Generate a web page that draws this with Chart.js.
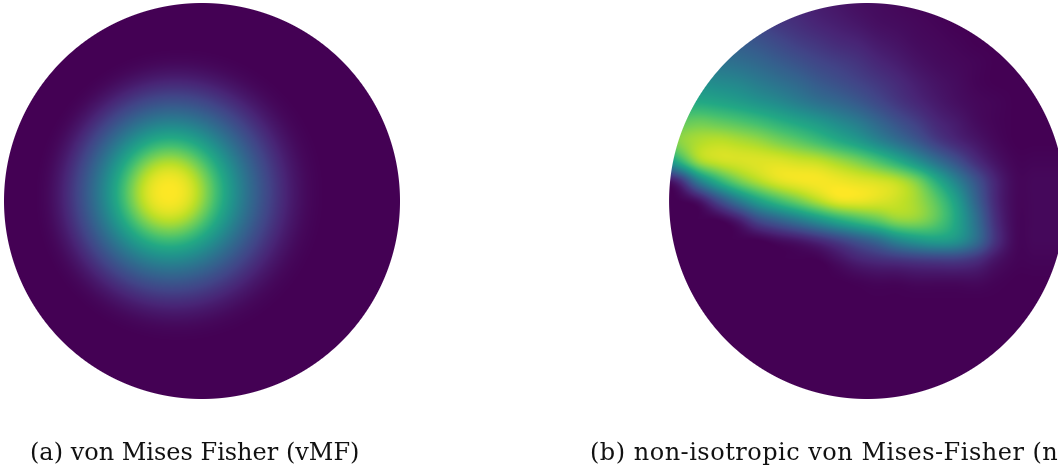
<!DOCTYPE html>
<html>
<head>
<meta charset="utf-8">
<script src="https://cdn.jsdelivr.net/npm/chart.js@4"></script>
<style>
  html, body { margin: 0; padding: 0; background: #fff; }
  #wrap { position: relative; width: 1058px; height: 473px; overflow: hidden; }
  #graph { position: absolute; left: 0; top: 0; }
  .caption { position: absolute; top: 440px; font-family: 'DejaVu Serif', serif; font-size: 24px; line-height: 24px; color: #111; white-space: nowrap; }
</style>
</head>
<body>
<div id="wrap">
  <canvas id="graph" width="1058" height="473"></canvas>
  <div class="caption" style="left:30px">(a) von Mises Fisher (vMF)</div>
  <div class="caption" style="left:590px; letter-spacing:0.5px">(b) non-isotropic von Mises-Fisher (n</div>
</div>
<script>
// units: one sphere radius. left sphere at x=0, right sphere at x=sphereGap
var sphereGap = 3.359

// (a) vMF: density against angle (degrees) from the mean direction
var vmfMean = [-0.167, 0.045]
var vmfAngles = [0, 3, 6, 9, 12, 15, 18, 21, 24, 27, 30, 33, 36, 39, 42, 45, 48]
var vmfDensity = [1.0, 0.99, 0.95, 0.87, 0.76, 0.64, 0.53, 0.43, 0.34, 0.26, 0.19, 0.13, 0.08, 0.045, 0.02, 0.007, 0]

// (b) non-isotropic vMF: density read on a grid over the right disc
var nvmfGridX = [-1.05, -0.95, -0.85, -0.75, -0.65, -0.55, -0.45, -0.35, -0.25, -0.15, -0.05, 0.05, 0.15, 0.25, 0.35, 0.45, 0.55, 0.65, 0.75]
var nvmfGridY = [1.0, 0.9, 0.8, 0.7, 0.6, 0.5, 0.4, 0.3, 0.2, 0.1, 0.0, -0.1, -0.2, -0.3, -0.4, -0.5]
var nvmfRows = [
  [0.26, 0.25, 0.24, 0.22, 0.20, 0.17, 0.14, 0.11, 0.08, 0.06, 0.04, 0.03, 0.02, 0.01, 0, 0, 0, 0, 0],
  [0.29, 0.28, 0.27, 0.25, 0.23, 0.20, 0.16, 0.13, 0.10, 0.08, 0.06, 0.04, 0.03, 0.02, 0.01, 0, 0, 0, 0],
  [0.35, 0.34, 0.33, 0.31, 0.29, 0.26, 0.22, 0.18, 0.15, 0.12, 0.10, 0.07, 0.05, 0.03, 0.02, 0.01, 0, 0, 0],
  [0.42, 0.41, 0.40, 0.38, 0.36, 0.33, 0.29, 0.25, 0.21, 0.18, 0.15, 0.11, 0.08, 0.05, 0.03, 0.02, 0.01, 0, 0],
  [0.50, 0.50, 0.49, 0.47, 0.45, 0.41, 0.37, 0.33, 0.28, 0.24, 0.20, 0.16, 0.12, 0.08, 0.05, 0.03, 0.01, 0, 0],
  [0.60, 0.60, 0.60, 0.58, 0.55, 0.51, 0.47, 0.42, 0.37, 0.33, 0.28, 0.22, 0.16, 0.11, 0.07, 0.04, 0.02, 0.01, 0],
  [0.68, 0.74, 0.77, 0.75, 0.72, 0.68, 0.63, 0.58, 0.53, 0.47, 0.41, 0.33, 0.25, 0.18, 0.11, 0.07, 0.03, 0.01, 0],
  [0.72, 0.82, 0.88, 0.90, 0.88, 0.85, 0.80, 0.75, 0.69, 0.62, 0.55, 0.46, 0.37, 0.28, 0.18, 0.11, 0.06, 0.02, 0],
  [0.40, 0.63, 0.85, 0.92, 0.94, 0.95, 0.95, 0.93, 0.91, 0.86, 0.80, 0.72, 0.62, 0.50, 0.37, 0.25, 0.13, 0.05, 0.01],
  [0.01, 0.12, 0.42, 0.63, 0.78, 0.88, 0.95, 0.98, 0.99, 0.98, 0.96, 0.94, 0.90, 0.80, 0.62, 0.44, 0.26, 0.10, 0.02],
  [0, 0, 0.05, 0.22, 0.40, 0.56, 0.68, 0.78, 0.88, 0.96, 0.97, 0.95, 0.92, 0.86, 0.74, 0.56, 0.32, 0.11, 0.02],
  [0, 0, 0, 0, 0.07, 0.21, 0.30, 0.39, 0.49, 0.59, 0.67, 0.74, 0.82, 0.82, 0.74, 0.59, 0.37, 0.13, 0.02],
  [0, 0, 0, 0, 0, 0, 0.03, 0.06, 0.11, 0.18, 0.26, 0.34, 0.45, 0.52, 0.55, 0.51, 0.36, 0.14, 0.02],
  [0, 0, 0, 0, 0, 0, 0, 0, 0, 0.04, 0.09, 0.12, 0.14, 0.16, 0.17, 0.17, 0.13, 0.05, 0.01],
  [0, 0, 0, 0, 0, 0, 0, 0, 0, 0, 0.01, 0.02, 0.02, 0.03, 0.03, 0.03, 0.03, 0.01, 0],
  [0, 0, 0, 0, 0, 0, 0, 0, 0, 0, 0, 0, 0, 0, 0, 0, 0, 0, 0]
]

// viridis colour stops
var viridisStops = [
  [68, 1, 84], [72, 36, 117], [65, 68, 135], [53, 95, 141], [42, 120, 142], [33, 145, 140],
  [34, 168, 132], [68, 191, 112], [122, 209, 81], [189, 223, 38], [253, 231, 37]
]

function viridis(t) {
  t = Math.min(1, Math.max(0, t))
  var f = t * (viridisStops.length - 1)
  var i = Math.min(Math.floor(f), viridisStops.length - 2)
  var k = f - i
  var a = viridisStops[i], b = viridisStops[i + 1]
  return [a[0] + (b[0] - a[0]) * k, a[1] + (b[1] - a[1]) * k, a[2] + (b[2] - a[2]) * k]
}

function clampIdx(i, n) { return i < 0 ? 0 : (i > n - 1 ? n - 1 : i) }

// catmull-rom between p1 and p2
function cr(p0, p1, p2, p3, t) {
  return p1 + 0.5 * t * (p2 - p0 + t * (2 * p0 - 5 * p1 + 4 * p2 - p3 + t * (3 * (p1 - p2) + p3 - p0)))
}

function sample1d(arr, f) {
  if (f >= arr.length - 1) return arr[arr.length - 1]
  var i = Math.floor(f), t = f - i, n = arr.length
  return cr(arr[clampIdx(i - 1, n)], arr[i], arr[clampIdx(i + 1, n)], arr[clampIdx(i + 2, n)], t)
}

function sample2d(rows, fx, fy) {
  var nr = rows.length, nc = rows[0].length
  var ix = Math.floor(fx), iy = Math.floor(fy)
  var tx = fx - ix, ty = fy - iy
  var col = []
  for (var m = -1; m <= 2; m++) {
    var r = rows[clampIdx(iy + m, nr)]
    col.push(cr(r[clampIdx(ix - 1, nc)], r[clampIdx(ix, nc)], r[clampIdx(ix + 1, nc)], r[clampIdx(ix + 2, nc)], tx))
  }
  return cr(col[0], col[1], col[2], col[3], ty)
}

var mz = Math.sqrt(1 - vmfMean[0] * vmfMean[0] - vmfMean[1] * vmfMean[1])
function vmfValue(u, v, r) {
  var z = Math.sqrt(Math.max(0, 1 - r * r))
  var dot = u * vmfMean[0] + v * vmfMean[1] + z * mz
  var deg = Math.acos(Math.min(1, dot)) * 180 / Math.PI
  return sample1d(vmfDensity, deg / (vmfAngles[1] - vmfAngles[0]))
}

function nvmfValue(u, v) {
  var fx = (u - nvmfGridX[0]) / (nvmfGridX[1] - nvmfGridX[0])
  var fy = (nvmfGridY[0] - v) / (nvmfGridY[0] - nvmfGridY[1])
  return sample2d(nvmfRows, fx, fy)
}

function paintSphere(chart, cx, valueAt) {
  var ctx = chart.ctx
  var xs = chart.scales.x, ys = chart.scales.y
  var left = Math.max(0, Math.floor(xs.getPixelForValue(cx - 1)) - 1)
  var right = Math.min(chart.width, Math.ceil(xs.getPixelForValue(cx + 1)) + 1)
  var top = Math.max(0, Math.floor(ys.getPixelForValue(1)) - 1)
  var bottom = Math.min(chart.height, Math.ceil(ys.getPixelForValue(-1)) + 1)
  var w = right - left, h = bottom - top
  var rpx = xs.getPixelForValue(cx + 1) - xs.getPixelForValue(cx)
  var img = ctx.createImageData(w, h)
  for (var j = 0; j < h; j++) {
    var v = ys.getValueForPixel(top + j + 0.5)
    for (var i = 0; i < w; i++) {
      var u = xs.getValueForPixel(left + i + 0.5) - cx
      var r = Math.sqrt(u * u + v * v)
      var edge = (1 - r) * rpx + 0.5
      if (edge <= 0) continue
      var c = viridis(valueAt(u, v, r))
      var o = (j * w + i) * 4
      img.data[o] = c[0]
      img.data[o + 1] = c[1]
      img.data[o + 2] = c[2]
      img.data[o + 3] = Math.min(1, edge) * 255
    }
  }
  ctx.putImageData(img, left, top)
}

var spherePlugin = {
  id: 'sphereDensity',
  beforeDatasetsDraw: function (chart) {
    paintSphere(chart, chart.data.datasets[0].data[0].x, vmfValue)
    paintSphere(chart, chart.data.datasets[1].data[0].x, nvmfValue)
  }
}

function createChart() {
  var ctx = document.getElementById('graph').getContext('2d')
  var pxPerUnit = 198
  new Chart(ctx, {
    type: 'scatter',
    data: {
      datasets: [
        { label: 'vMF', data: [{ x: 0, y: 0 }], pointRadius: 0 },
        { label: 'non-isotropic vMF', data: [{ x: sphereGap, y: 0 }], pointRadius: 0 }
      ]
    },
    options: {
      responsive: false,
      animation: false,
      events: [],
      layout: { padding: 0 },
      plugins: { legend: { display: false }, tooltip: { enabled: false } },
      scales: {
        x: { type: 'linear', display: false, min: -202 / pxPerUnit, max: (1058 - 202) / pxPerUnit },
        y: { type: 'linear', display: false, min: -(473 - 201) / pxPerUnit, max: 201 / pxPerUnit }
      }
    },
    plugins: [spherePlugin]
  })
}

createChart()
</script>
</body>
</html>
